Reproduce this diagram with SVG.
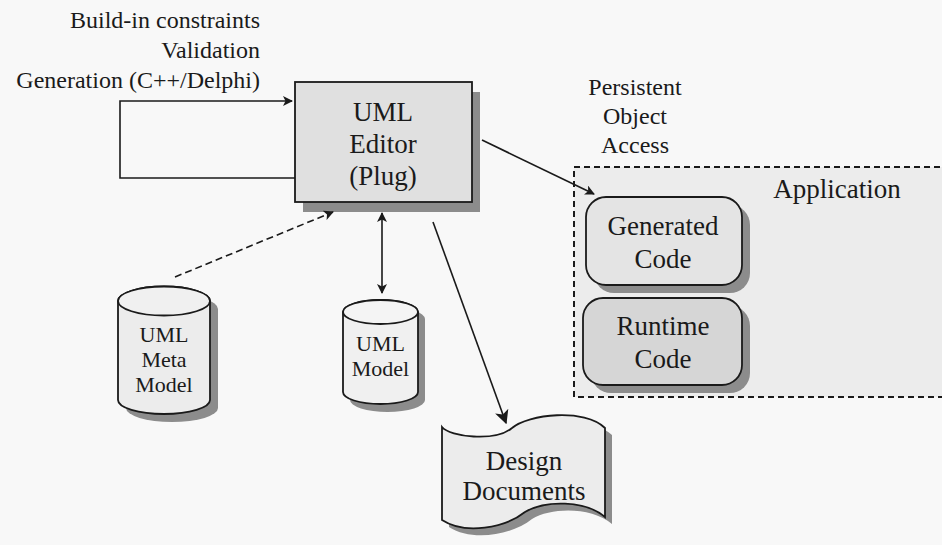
<svg xmlns="http://www.w3.org/2000/svg" width="942" height="545" viewBox="0 0 942 545">
<style>
text{font-family:"Liberation Serif","Times New Roman",serif;fill:#1a1a1a}
.lbl{font-size:24px}
.nt{font-size:27px;text-anchor:middle}
.ct{font-size:22px;text-anchor:middle}
.edge{stroke:#1a1a1a;stroke-width:1.6;fill:none}
.shadow{fill:#8c8c8c}
.ol{stroke:#1a1a1a;stroke-width:1.8}
</style>
<defs>
<marker id="ah" viewBox="0 0 10 10" refX="9" refY="5" markerWidth="10" markerHeight="10" markerUnits="userSpaceOnUse" orient="auto-start-reverse">
<path d="M0,0 L10,5 L0,10 L2.5,5 Z" fill="#1a1a1a"/>
</marker>
<marker id="ahb" viewBox="0 0 10 10" refX="9" refY="5" markerWidth="14" markerHeight="14" markerUnits="userSpaceOnUse" orient="auto-start-reverse">
<path d="M0,0 L10,5 L0,10 L2.5,5 Z" fill="#1a1a1a"/>
</marker>
</defs>
<rect width="942" height="545" fill="#f8f8f8"/>

<g id="labels">
<text class="lbl" x="260" y="28" text-anchor="end">Build-in constraints</text>
<text class="lbl" x="260" y="58" text-anchor="end">Validation</text>
<text class="lbl" x="260" y="88" text-anchor="end">Generation (C++/Delphi)</text>
<text class="lbl" x="635" y="95" text-anchor="middle">Persistent</text>
<text class="lbl" x="635" y="124" text-anchor="middle">Object</text>
<text class="lbl" x="635" y="153" text-anchor="middle">Access</text>
</g>

<g id="application">
<rect x="574" y="167" width="380" height="230" fill="#ececec" stroke="#1a1a1a" stroke-width="2" stroke-dasharray="6,4"/>
<text x="837" y="198" font-size="27" text-anchor="middle">Application</text>
</g>

<g id="uml-editor">
<rect class="shadow" x="303" y="92" width="177" height="120"/>
<rect class="ol" x="295" y="82" width="177" height="120" fill="#e0e0e0"/>
<text class="nt" x="383" y="121" font-size="28">UML</text>
<text class="nt" x="383" y="153" font-size="28">Editor</text>
<text class="nt" x="383" y="185" font-size="28">(Plug)</text>
</g>

<g id="generated-code">
<rect class="shadow" x="594" y="205" width="156" height="88" rx="20"/>
<rect class="ol" x="586" y="197" width="156" height="88" rx="20" fill="#e4e4e4"/>
<text class="nt" x="663" y="235">Generated</text>
<text class="nt" x="663" y="268">Code</text>
</g>

<g id="runtime-code">
<rect class="shadow" x="591" y="306" width="159" height="87" rx="20"/>
<rect class="ol" x="583" y="298" width="159" height="87" rx="20" fill="#d6d6d6"/>
<text class="nt" x="663" y="335">Runtime</text>
<text class="nt" x="663" y="368">Code</text>
</g>

<g id="uml-meta-model">
<path class="shadow" d="M126,309 A46,14.5 0 0 1 218,309 L218,408 A46,14 0 0 1 126,408 Z"/>
<path class="ol" d="M118,301 A46,14.5 0 0 1 210,301 L210,400 A46,14 0 0 1 118,400 Z" fill="#ececec"/>
<ellipse class="ol" cx="164" cy="301" rx="46" ry="14.5" fill="#f0f0f0"/>
<text class="ct" x="164" y="342">UML</text>
<text class="ct" x="164" y="367">Meta</text>
<text class="ct" x="164" y="392">Model</text>
</g>

<g id="uml-model">
<path class="shadow" d="M350,319 A37.5,12 0 0 1 425,319 L425,400 A37.5,12 0 0 1 350,400 Z"/>
<path class="ol" d="M343,312 A37.5,12 0 0 1 418,312 L418,392 A37.5,12 0 0 1 343,392 Z" fill="#f0f0f0"/>
<ellipse class="ol" cx="380.5" cy="312" rx="37.5" ry="12" fill="#f4f4f4"/>
<text class="ct" x="380.5" y="351">UML</text>
<text class="ct" x="380.5" y="376">Model</text>
</g>

<g id="design-documents">
<path class="shadow" d="M449,434 C457,444 502,449 519,435 C535,421 592,415 612,435 L612,524 C592,507 552,507 532,519 C512,535 472,542 449,527 Z"/>
<path class="ol" d="M442,427 C450,437 495,442 512,428 C528,414 585,408 605,428 L605,517 C585,500 545,500 525,512 C505,528 465,535 442,520 Z" fill="#ececec"/>
<text class="nt" x="524" y="470">Design</text>
<text class="nt" x="524" y="500">Documents</text>
</g>

<g id="connectors">
<path class="edge" d="M295,178 L120,178 L120,101 L292,101" marker-end="url(#ah)"/>
<path class="edge" d="M175,277 L333,212" stroke-dasharray="7,4" stroke-width="2" marker-end="url(#ah)"/>
<path class="edge" d="M382,213 L382,293" marker-start="url(#ah)" marker-end="url(#ah)"/>
<path class="edge" d="M482,140 L594,194" marker-end="url(#ah)"/>
<path class="edge" d="M433,222 L506,423" marker-end="url(#ahb)"/>
</g>
</svg>
